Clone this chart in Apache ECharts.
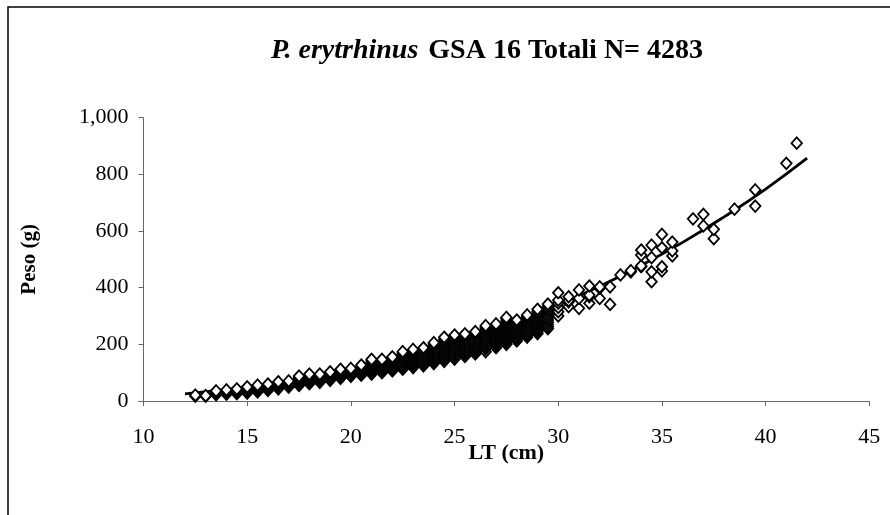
<!DOCTYPE html>
<html>
<head>
<meta charset="utf-8">
<script src="https://cdn.jsdelivr.net/npm/echarts@6/dist/echarts.min.js"></script>
<style>
html,body{margin:0;padding:0;background:#fff;}
#chart{width:890px;height:515px;}
</style>
</head>
<body>
<div id="chart"></div>
<script>
// ---- Data ----
const xTicks = [10, 15, 20, 25, 30, 35, 40, 45];
const yTicks = [0, 200, 400, 600, 800, 1000];

// Dense band: length (cm) -> observed weights (g), bottom to top
const bandLengths = [12.5, 13, 13.5, 14, 14.5, 15, 15.5, 16, 16.5, 17, 17.5, 18, 18.5, 19, 19.5, 20,
  20.5, 21, 21.5, 22, 22.5, 23, 23.5, 24, 24.5, 25, 25.5, 26, 26.5, 27, 27.5, 28, 28.5, 29, 29.5, 30];
const bandWeights = [
  [17, 21],
  [17, 19],
  [22, 26, 31, 36],
  [24, 29, 34, 39],
  [26, 31, 37, 43],
  [28, 33, 39, 44, 50],
  [32, 38, 44, 50, 56],
  [37, 43, 49, 55, 60],
  [43, 49, 55, 62, 68],
  [49, 55, 61, 66, 71],
  [55, 61, 67, 73, 79, 84, 88],
  [61, 67, 73, 79, 85, 90, 95],
  [66, 72, 78, 84, 90, 95],
  [73, 79, 85, 91, 97, 103],
  [80, 86, 92, 98, 104, 108, 112],
  [87, 93, 99, 105, 110, 115],
  [91, 97, 103, 109, 115, 121, 127],
  [95, 101, 107, 113, 119, 125, 131, 137, 142, 147],
  [100, 106, 112, 118, 124, 130, 136, 142, 147],
  [106, 112, 118, 124, 130, 136, 142, 148, 152, 156],
  [112, 118, 124, 130, 137, 144, 151, 158, 164, 169, 174],
  [118, 124, 131, 138, 145, 152, 159, 166, 172, 177, 182],
  [124, 131, 138, 145, 152, 159, 166, 173, 180, 188],
  [132, 139, 146, 153, 160, 167, 174, 181, 188, 195, 201, 206],
  [140, 147, 154, 161, 168, 175, 182, 189, 196, 203, 210, 217, 225],
  [148, 155, 162, 169, 176, 183, 190, 197, 204, 211, 218, 224, 229, 233],
  [157, 164, 171, 178, 185, 192, 199, 206, 213, 220, 227, 233, 237],
  [166, 173, 180, 187, 194, 201, 208, 215, 222, 229, 236, 241, 245],
  [174, 184, 191, 198, 205, 212, 219, 226, 233, 240, 247, 254, 260, 266],
  [188, 195, 202, 209, 216, 223, 230, 237, 244, 251, 258, 265, 272],
  [200, 207, 214, 221, 228, 235, 242, 249, 256, 263, 270, 277, 284, 290, 295],
  [212, 219, 226, 233, 240, 247, 254, 261, 268, 275, 282, 286],
  [225, 232, 239, 246, 253, 260, 267, 274, 281, 288, 295, 300, 304],
  [238, 245, 252, 259, 266, 273, 280, 287, 294, 301, 308, 315, 324],
  [255, 262, 270, 278, 286, 294, 302, 310, 318, 326, 334, 342],
  [300, 315, 330, 345, 356, 382]
];

// Sparse large fish
const sparseLengths = [30.5, 31, 31.5, 32, 32.5, 33, 33.5, 34, 34.5, 35, 35.5, 36.5, 37, 37.5, 38.5, 39.5, 41, 41.5];
const sparseWeights = [
  [333, 350, 354, 368],
  [327, 362, 392],
  [345, 368, 374, 406],
  [362, 398, 403],
  [341, 403],
  [445],
  [456, 460],
  [474, 477, 515, 533],
  [421, 456, 506, 550],
  [459, 474, 541, 588],
  [512, 530, 561],
  [643],
  [618, 659],
  [573, 606],
  [677],
  [688, 745],
  [839],
  [910]
];

// Power-curve trend line
const fitLengths = [12, 14, 16, 18, 20, 22, 24, 26, 28, 30, 32, 34, 36, 38, 40, 42];
const fitWeights = [25, 41, 60, 83, 111, 145, 184, 229, 281, 339, 405, 479, 560, 650, 748, 857];

// ---- Build series data ----
const scatterData = [];
bandLengths.forEach((L, i) => bandWeights[i].forEach(w => scatterData.push([L, w])));
sparseLengths.forEach((L, i) => sparseWeights[i].forEach(w => scatterData.push([L, w])));
const fitData = fitLengths.map((L, i) => [L, fitWeights[i]]);

const serif = '"Liberation Serif", "Times New Roman", serif';
const chart = echarts.init(document.getElementById('chart'), null, {renderer: 'canvas'});
chart.setOption({
  animation: false,
  backgroundColor: '#fff',
  title: {
    text: '{i|P. erytrhinus}  {b|GSA 16 Totali N= 4283}',
    left: 266,
    top: 32,
    textStyle: {
      rich: {
        i: {fontFamily: serif, fontStyle: 'italic', fontWeight: 'bold', fontSize: 28, color: '#000'},
        b: {fontFamily: serif, fontWeight: 'bold', fontSize: 28, color: '#000'}
      }
    }
  },
  graphic: [{
    type: 'rect',
    shape: {x: 8, y: 7, width: 950, height: 600},
    style: {fill: 'none', stroke: '#000', lineWidth: 1.5},
    silent: true,
    z: 100
  }],
  grid: {left: 143.5, right: 20.7, top: 117.7, bottom: 114, containLabel: false},
  xAxis: {
    type: 'value',
    min: 10, max: 45, interval: 5,
    name: 'LT (cm)',
    nameLocation: 'middle',
    nameGap: 41,
    nameMoveOverlap: false,
    nameTextStyle: {fontFamily: serif, fontWeight: 'bold', fontSize: 22, color: '#000'},
    axisLine: {show: true, lineStyle: {color: '#666', width: 1}},
    axisTick: {show: true, length: 5, lineStyle: {color: '#666'}},
    axisLabel: {fontFamily: serif, fontSize: 22, color: '#000', margin: 25},
    splitLine: {show: false}
  },
  yAxis: {
    type: 'value',
    min: 0, max: 1000, interval: 200,
    name: 'Peso (g)',
    nameLocation: 'middle',
    nameGap: 103,
    nameMoveOverlap: false,
    nameRotate: 90,
    nameTextStyle: {fontFamily: serif, fontWeight: 'bold', fontSize: 21, color: '#000'},
    axisLine: {show: true, lineStyle: {color: '#666', width: 1}},
    axisTick: {show: true, length: 5, lineStyle: {color: '#666'}},
    axisLabel: {
      fontFamily: serif, fontSize: 22, color: '#000', margin: 15,
      formatter: v => v.toLocaleString('en-US')
    },
    splitLine: {show: false}
  },
  series: [
    {
      type: 'line',
      data: fitData,
      smooth: true,
      showSymbol: false,
      symbol: 'none',
      lineStyle: {color: '#000', width: 2.8},
      z: 1
    },
    {
      type: 'scatter',
      data: scatterData,
      symbol: 'diamond',
      symbolSize: [10.5, 11.5],
      itemStyle: {color: '#fff', borderColor: '#000', borderWidth: 1.8, opacity: 1},
      z: 2
    }
  ]
});
</script>
</body>
</html>
